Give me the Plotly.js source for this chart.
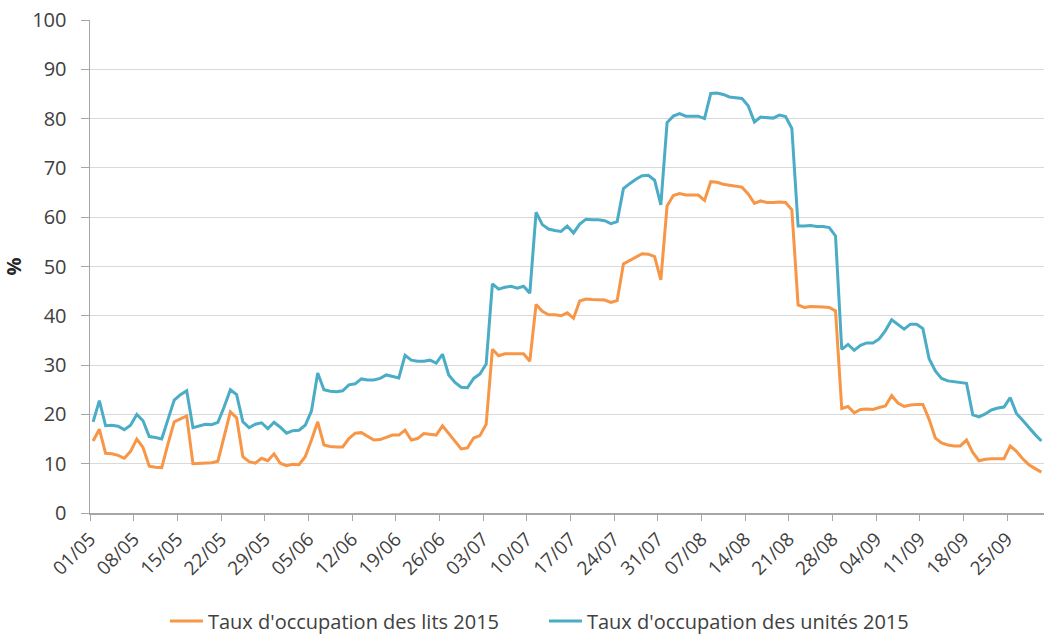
<!DOCTYPE html>
<html>
<head>
<meta charset="utf-8">
<script src="https://cdn.plot.ly/plotly-3.0.1.min.js"></script>
<style>
html, body { margin: 0; padding: 0; background: #ffffff; }
#chart { width: 1044px; height: 635px; }
</style>
</head>
<body>
<div id="chart"></div>
<script>
// Daily series, 01/05/2015 to 30/09/2015 (153 days)
const startDate = '2015-05-01';
const seriesLits = 'Taux d\'occupation des lits 2015';
const seriesUnites = 'Taux d\'occupation des unités 2015';

const litsMay = [14.6, 17.0, 12.1, 12.0, 11.7, 11.1, 12.5, 15.0, 13.3, 9.5, 9.3, 9.2, 14.0, 18.5, 19.1, 19.7, 10.0, 10.1, 10.1, 10.2, 10.5, 15.5, 20.5, 19.3, 11.4, 10.4, 10.1, 11.1, 10.6, 12.0, 10.1];
const litsJun = [9.6, 9.9, 9.8, 11.4, 14.8, 18.5, 13.8, 13.5, 13.4, 13.4, 15.1, 16.2, 16.3, 15.5, 14.8, 14.9, 15.4, 15.8, 15.8, 16.8, 14.8, 15.1, 16.1, 16.0, 15.8, 17.7, 16.1, 14.4, 13.0, 13.2];
const litsJul = [15.2, 15.7, 18.0, 33.2, 31.9, 32.3, 32.3, 32.3, 32.3, 30.8, 42.3, 40.9, 40.2, 40.2, 40.0, 40.6, 39.5, 43.0, 43.4, 43.3, 43.3, 43.2, 42.7, 43.1, 50.5, 51.2, 52.0, 52.6, 52.5, 52.0, 47.3];
const litsAug = [62.3, 64.4, 64.8, 64.5, 64.5, 64.5, 63.4, 67.2, 67.1, 66.7, 66.5, 66.3, 66.1, 64.7, 62.8, 63.3, 63.0, 63.0, 63.1, 63.0, 61.5, 42.2, 41.7, 41.9, 41.9, 41.8, 41.7, 41.0, 21.2, 21.6, 20.3];
const litsSep = [21.0, 21.1, 21.0, 21.4, 21.7, 23.8, 22.3, 21.6, 21.9, 22.0, 22.0, 19.0, 15.2, 14.2, 13.8, 13.6, 13.6, 14.8, 12.3, 10.6, 10.9, 11.0, 11.0, 11.0, 13.6, 12.5, 11.0, 9.8, 9.0, 8.3];

const unitesMay = [18.5, 22.8, 17.7, 17.8, 17.6, 16.9, 17.8, 20.0, 18.7, 15.5, 15.3, 15.0, 19.0, 22.9, 24.0, 24.8, 17.3, 17.6, 18.0, 17.9, 18.4, 21.5, 25.0, 24.0, 18.5, 17.3, 18.0, 18.3, 17.1, 18.4, 17.4];
const unitesJun = [16.2, 16.7, 16.8, 17.8, 20.7, 28.4, 25.0, 24.7, 24.6, 24.8, 26.0, 26.2, 27.2, 27.0, 27.0, 27.3, 28.0, 27.7, 27.4, 32.0, 31.0, 30.8, 30.8, 31.0, 30.4, 32.2, 28.0, 26.5, 25.5, 25.4];
const unitesJul = [27.3, 28.2, 30.2, 46.5, 45.4, 45.8, 46.0, 45.6, 46.0, 44.6, 61.0, 58.5, 57.6, 57.3, 57.1, 58.2, 56.8, 58.6, 59.6, 59.5, 59.5, 59.3, 58.7, 59.1, 65.8, 66.8, 67.7, 68.4, 68.5, 67.5, 62.5];
const unitesAug = [79.2, 80.5, 81.0, 80.5, 80.5, 80.5, 80.0, 85.1, 85.2, 84.9, 84.4, 84.2, 84.1, 82.6, 79.3, 80.3, 80.2, 80.1, 80.7, 80.4, 78.0, 58.2, 58.2, 58.3, 58.1, 58.1, 57.9, 56.2, 33.2, 34.2, 33.0];
const unitesSep = [34.0, 34.5, 34.5, 35.3, 37.0, 39.2, 38.2, 37.3, 38.3, 38.3, 37.4, 31.3, 28.8, 27.3, 26.8, 26.6, 26.5, 26.3, 19.9, 19.5, 20.1, 20.9, 21.3, 21.5, 23.4, 20.2, 18.8, 17.3, 15.9, 14.6];

const lits = [].concat(litsMay, litsJun, litsJul, litsAug, litsSep);
const unites = [].concat(unitesMay, unitesJun, unitesJul, unitesAug, unitesSep);

// calendar dates for each daily value
const dates = [];
const d0 = new Date(startDate + 'T00:00:00Z');
for (let i = 0; i < lits.length; i++) {
  const d = new Date(d0.getTime() + i * 86400000);
  dates.push(d.toISOString().slice(0, 10));
}

const DAY = 86400000;
const axisGray = '#a6a6a6';
const textGray = '#404040';
const fontFam = '"Open Sans", "DejaVu Sans", sans-serif';

const traces = [
  {
    x: dates, y: lits, name: seriesLits, type: 'scatter', mode: 'lines',
    xperiod: DAY, xperiodalignment: 'middle',
    line: { color: '#F79646', width: 3 }
  },
  {
    x: dates, y: unites, name: seriesUnites, type: 'scatter', mode: 'lines',
    xperiod: DAY, xperiodalignment: 'middle',
    line: { color: '#4BACC6', width: 3 }
  }
];

const layout = {
  width: 1044, height: 635,
  margin: { l: 90, r: 0, t: 20, b: 122 },
  paper_bgcolor: '#ffffff', plot_bgcolor: '#ffffff',
  font: { family: fontFam, color: textGray, size: 16 },
  showlegend: true,
  legend: {
    orientation: 'h', xref: 'container', x: 0.158, xanchor: 'left',
    yref: 'container', y: 0.022, yanchor: 'middle',
    font: { size: 20, color: textGray }, itemwidth: 33,
    traceorder: 'normal', entrywidth: 331
  },
  xaxis: {
    type: 'date',
    range: ['2015-05-01', '2015-09-30 22:00'],
    tick0: '2015-05-01', dtick: 7 * DAY,
    tickformat: '%d/%m', tickangle: -45,
    ticks: 'outside', ticklen: 6, tickcolor: axisGray, tickwidth: 1,
    showline: true, linecolor: axisGray, linewidth: 1.5,
    showgrid: false, zeroline: false,
    tickfont: { size: 19, color: textGray }
  },
  yaxis: {
    range: [0, 100], dtick: 10, tick0: 0,
    ticks: 'outside', ticklen: 8, tickcolor: axisGray, tickwidth: 1,
    showline: true, linecolor: axisGray, linewidth: 1.5,
    showgrid: true, gridcolor: '#d9d9d9', gridwidth: 1,
    zeroline: false, ticklabelstandoff: 10,
    tickfont: { size: 20, color: textGray },
    title: { text: '<b>%</b>', font: { size: 20, color: '#262626' }, standoff: 6 }
  }
};

Plotly.newPlot('chart', traces, layout, { displayModeBar: false, staticPlot: true });
</script>
</body>
</html>
